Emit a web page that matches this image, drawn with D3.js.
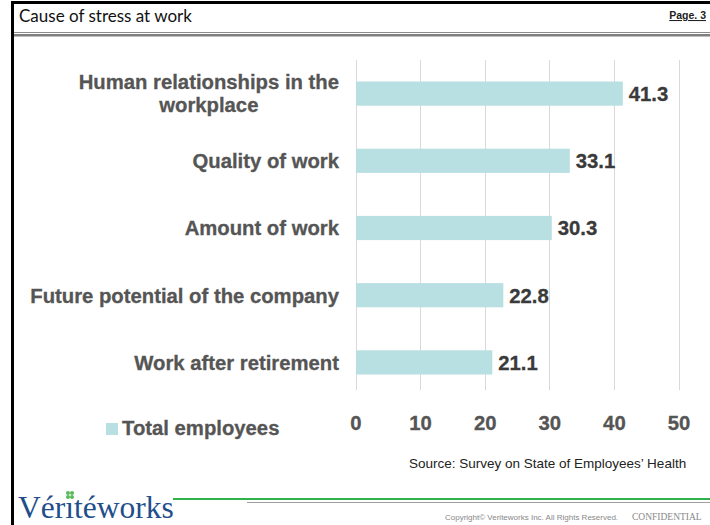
<!DOCTYPE html>
<html>
<head>
<meta charset="utf-8">
<script src="https://cdn.jsdelivr.net/npm/d3@7"></script>
<style>
  html, body { margin: 0; padding: 0; background: #fff; }
  svg { display: block; }
</style>
</head>
<body>
<div id="chart"></div>
<script>
// data
var categories = [
    ["Human relationships in the", "workplace"],
    ["Quality of work"],
    ["Amount of work"],
    ["Future potential of the company"],
    ["Work after retirement"]
];
var totalEmployees = [41.3, 33.1, 30.3, 22.8, 21.1];
var xTicks = [0, 10, 20, 30, 40, 50];
var seriesName = "Total employees";

var W = 710, H = 525;
var barColor = "#b8dfe1";
var svg = d3.select("#chart").append("svg")
    .attr("width", W).attr("height", H);

// slide frame
svg.append("rect").attr("x", 11).attr("y", 1).attr("width", W - 11).attr("height", 3).attr("fill", "#000");
svg.append("rect").attr("x", 11).attr("y", 1).attr("width", 3).attr("height", H).attr("fill", "#000");
svg.append("rect").attr("x", 14).attr("y", 32).attr("width", W - 14).attr("height", 1).attr("fill", "#8a8a8a");
svg.append("rect").attr("x", 14).attr("y", 34).attr("width", W - 14).attr("height", 2.5).attr("fill", "#7f7f7f");

svg.append("text")
    .attr("x", 19).attr("y", 22)
    .attr("font-family", "Lato, 'Open Sans', sans-serif")
    .attr("font-size", 17)
    .attr("fill", "#111")
    .text("Cause of stress at work");

svg.append("text")
    .attr("x", 706).attr("y", 19)
    .attr("text-anchor", "end")
    .attr("font-family", "'Liberation Sans', Arial, sans-serif")
    .attr("font-weight", "bold")
    .attr("font-size", 10.5)
    .attr("text-decoration", "underline")
    .attr("fill", "#222")
    .text("Page. 3");

// chart
var x = d3.scaleLinear().domain([0, 50]).range([356, 679]);
var y = d3.scaleBand()
    .domain(d3.range(categories.length))
    .range([60, 396])
    .paddingInner(0.64)
    .paddingOuter(0.32);

var grid = svg.append("g").attr("class", "grid");
grid.selectAll("line")
    .data(xTicks)
    .enter().append("line")
    .attr("x1", function (d) { return x(d); })
    .attr("x2", function (d) { return x(d); })
    .attr("y1", 60).attr("y2", 390)
    .attr("stroke", "#d9d9d9")
    .attr("stroke-width", 1)
    .attr("shape-rendering", "crispEdges");

svg.append("g").selectAll("rect")
    .data(totalEmployees)
    .enter().append("rect")
    .attr("x", x(0))
    .attr("y", function (d, i) { return y(i); })
    .attr("width", function (d) { return x(d) - x(0); })
    .attr("height", y.bandwidth())
    .attr("fill", barColor);

var boldFont = "'Liberation Sans', Arial, sans-serif";

svg.append("g").selectAll("text")
    .data(totalEmployees)
    .enter().append("text")
    .attr("x", function (d) { return x(d) + 6; })
    .attr("y", function (d, i) { return y(i) + y.bandwidth() / 2; })
    .attr("dy", "0.36em")
    .attr("font-family", boldFont)
    .attr("font-weight", "bold")
    .attr("font-size", 20.3)
    .attr("fill", "#3a3a3a")
    .attr("stroke", "#3a3a3a")
    .attr("stroke-width", 0.3)
    .text(function (d) { return d.toFixed(1); });

// category labels, multi-line ones are centred on their widest line
var labelRight = 339, lineGap = 23;
var cat = svg.append("g").selectAll("text")
    .data(categories)
    .enter().append("text")
    .attr("font-family", boldFont)
    .attr("font-weight", "bold")
    .attr("font-size", 20.3)
    .attr("fill", "#555")
    .attr("stroke", "#555")
    .attr("stroke-width", 0.3);

cat.each(function (lines, i) {
    var t = d3.select(this);
    var cy = y(i) + y.bandwidth() / 2;
    if (lines.length === 1) {
        t.attr("text-anchor", "end")
            .attr("x", labelRight)
            .attr("y", cy)
            .attr("dy", "0.36em")
            .text(lines[0]);
    } else {
        t.attr("text-anchor", "middle");
        lines.forEach(function (line, k) {
            t.append("tspan")
                .attr("y", cy + (k - (lines.length - 1) / 2) * lineGap)
                .attr("dy", "0.36em")
                .text(line);
        });
        var maxW = 0;
        t.selectAll("tspan").each(function () {
            maxW = Math.max(maxW, this.getComputedTextLength());
        });
        t.selectAll("tspan").attr("x", labelRight - maxW / 2);
    }
});

// x axis labels (no axis line)
svg.append("g").selectAll("text")
    .data(xTicks)
    .enter().append("text")
    .attr("x", function (d) { return x(d); })
    .attr("y", 423)
    .attr("dy", "0.36em")
    .attr("text-anchor", "middle")
    .attr("font-family", boldFont)
    .attr("font-weight", "bold")
    .attr("font-size", 20.3)
    .attr("fill", "#555")
    .attr("stroke", "#555")
    .attr("stroke-width", 0.3)
    .text(function (d) { return d; });

// legend
svg.append("rect")
    .attr("x", 106).attr("y", 423)
    .attr("width", 12).attr("height", 12)
    .attr("fill", barColor);
svg.append("text")
    .attr("x", 122).attr("y", 428)
    .attr("dy", "0.36em")
    .attr("font-family", boldFont)
    .attr("font-weight", "bold")
    .attr("font-size", 20.3)
    .attr("fill", "#555")
    .attr("stroke", "#555")
    .attr("stroke-width", 0.3)
    .text(seriesName);

svg.append("text")
    .attr("x", 409).attr("y", 468)
    .attr("font-family", boldFont)
    .attr("font-size", 13.5)
    .attr("fill", "#222")
    .text("Source: Survey on State of Employees\u2019 Health");

// footer
svg.append("rect").attr("x", 173).attr("y", 498).attr("width", W - 173).attr("height", 2).attr("fill", "#2eb24b");
svg.append("rect").attr("x", 247).attr("y", 502).attr("width", W - 247).attr("height", 1).attr("fill", "#a0a0a0");

svg.append("text")
    .attr("x", 18).attr("y", 518)
    .attr("font-family", "'Liberation Serif', 'Times New Roman', serif")
    .attr("font-size", 31.5)
    .attr("fill", "#1f4e8c")
    .text("V\u00e9r\u0131t\u00e9works");

// little clover over the i
var clover = svg.append("g").attr("transform", "translate(70,495)");
[[-2, -2], [2, -2], [-2, 2], [2, 2]].forEach(function (p) {
    clover.append("circle").attr("cx", p[0]).attr("cy", p[1]).attr("r", 2).attr("fill", "#5cb85c");
});

svg.append("text")
    .attr("x", 445).attr("y", 520)
    .attr("font-family", boldFont)
    .attr("font-size", 8)
    .attr("fill", "#888")
    .text("Copyright\u00a9  Veriteworks  Inc.  All Rights Reserved.");
svg.append("text")
    .attr("x", 632).attr("y", 520)
    .attr("font-family", "'Liberation Serif', 'Times New Roman', serif")
    .attr("font-size", 9.5)
    .attr("fill", "#888")
    .text("CONFIDENTIAL");
</script>
</body>
</html>
